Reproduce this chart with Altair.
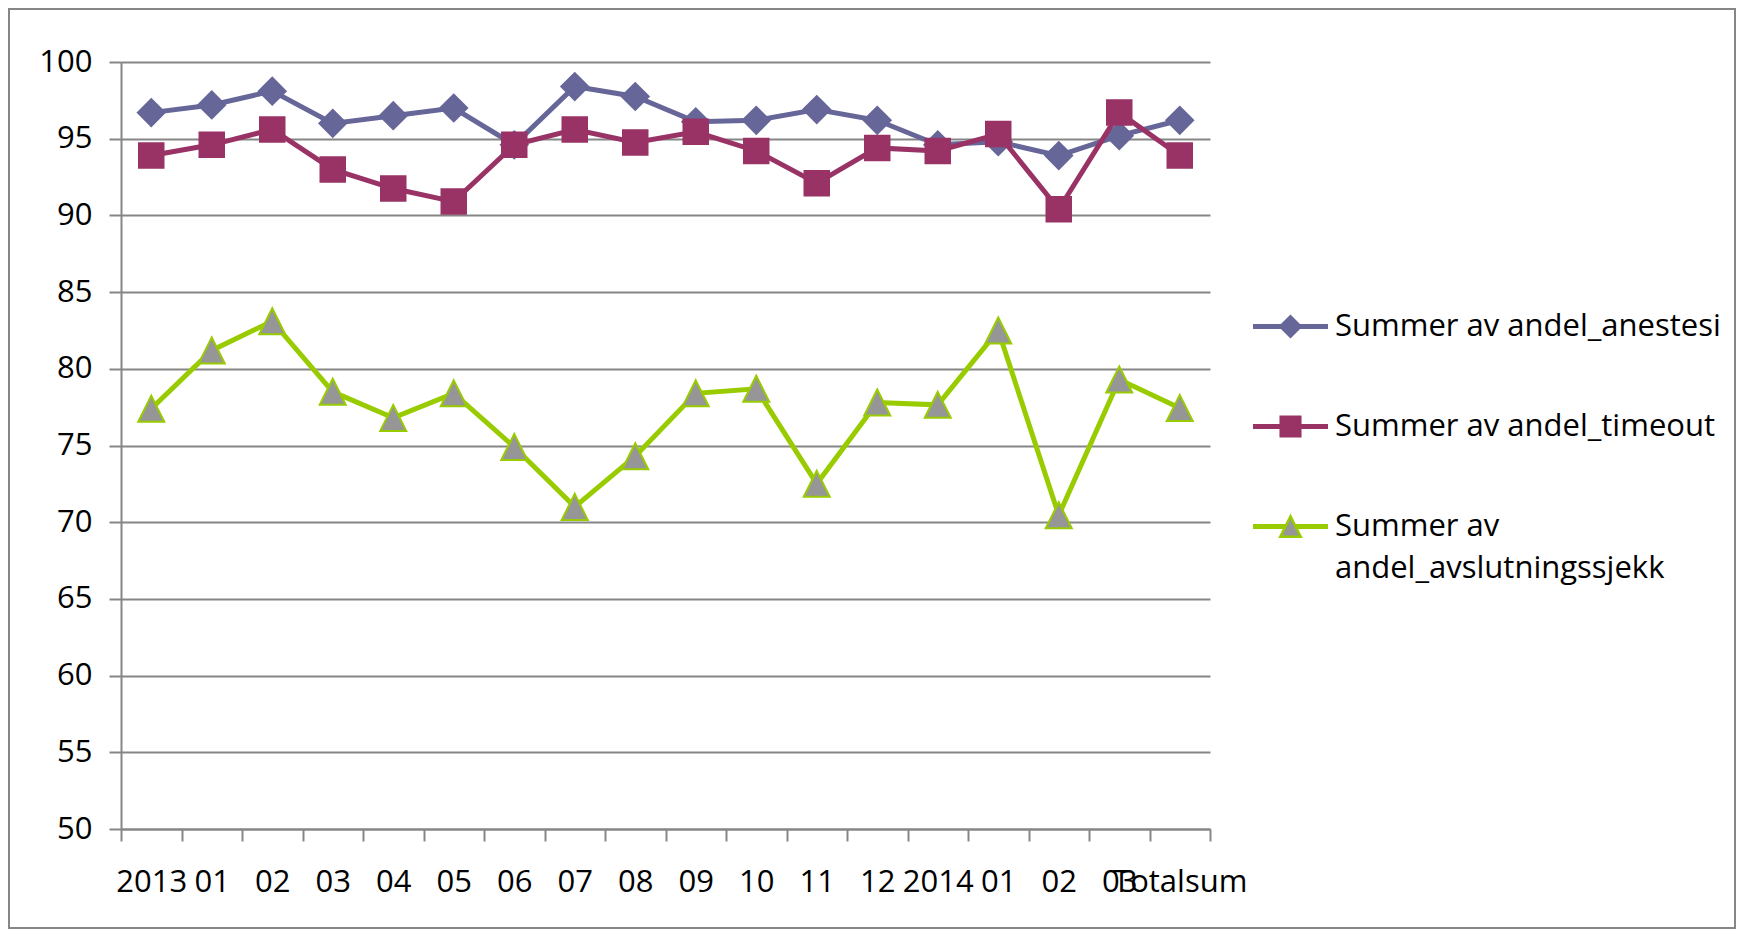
import altair as alt
import pandas as pd

# ---- data ----
labels = ["2013", "01", "02", "03", "04", "05", "06", "07", "08", "09", "10", "11", "12",
          "2014", "01", "02", "03", "Totalsum"]
series_names = ["Summer av andel_anestesi", "Summer av andel_timeout",
                "Summer av andel_avslutningssjekk"]
anestesi = [96.7, 97.2, 98.1, 96.0, 96.5, 97.0, 94.6, 98.4, 97.75, 96.1, 96.2, 96.9, 96.2,
            94.6, 94.8, 93.9, 95.2, 96.2]
timeout = [93.9, 94.6, 95.6, 93.0, 91.75, 90.9, 94.6, 95.6, 94.75, 95.45, 94.2, 92.1, 94.4,
           94.2, 95.3, 90.4, 96.7, 93.9]
avslutning = [77.4, 81.2, 83.1, 78.5, 76.8, 78.4, 74.9, 71.0, 74.3, 78.4, 78.7, 72.5, 77.8,
              77.65, 82.5, 70.45, 79.3, 77.45]
y_ticks = [50, 55, 60, 65, 70, 75, 80, 85, 90, 95, 100]

line_colors = ["#666699", "#993366", "#99CC00"]
fill_colors = ["#666699", "#993366", "#969696"]

keys = [f"{i:02d}|{lab}" for i, lab in enumerate(labels)]
rows = []
for name, vals in zip(series_names, [anestesi, timeout, avslutning]):
    for k, v in zip(keys, vals):
        rows.append({"cat": k, "series": name, "value": v})
df = pd.DataFrame(rows)

FONT = "Open Sans"
GRAY = "#868686"
FS = 31

# marker paths (unit box -1..1)
marker_paths = [
    "M-0.96,0L0,-0.96L0.96,0L0,0.96Z",
    "M-0.875,-0.875H0.875V0.875H-0.875Z",
    "M0,-0.93L0.93,0.93L-0.93,0.93Z",
]
# legend symbols: line through marker
ly = 0.109
legend_paths = [
    f"M-3.26,{-ly}H3.26M-3.26,{ly}H3.26M-0.89,0L0,-0.89L0.89,0L0,0.89Z",
    f"M-3.26,{-ly}H3.26M-3.26,{ly}H3.26M-0.85,-0.85H0.85V0.85H-0.85Z",
    f"M-3.26,{-ly}H-0.45M0.45,{-ly}H3.26M-3.26,{ly}H-0.45M0.45,{ly}H3.26M0,-0.89L0.89,0.89L-0.89,0.89Z",
]

x_enc = alt.X(
    "cat:N",
    sort=keys,
    scale=alt.Scale(type="band", domain=keys, paddingInner=0, paddingOuter=0),
    axis=alt.Axis(
        title=None,
        labelExpr="split(datum.label, '|')[1]",
        tickBand="extent",
        labelAngle=0,
        labelOverlap=False,
        labelPadding=26,
        tickSize=12,
        grid=False,
    ),
)
y_enc = alt.Y(
    "value:Q",
    scale=alt.Scale(domain=[50, 100], nice=False, zero=False),
    axis=alt.Axis(
        title=None,
        values=y_ticks,
        grid=True,
        tickSize=12,
        labelPadding=17,
    ),
)

base = alt.Chart(df)
layers = []
for i, name in enumerate(series_names):
    sub = base.transform_filter(alt.datum.series == name)
    layers.append(
        sub.mark_line(color=line_colors[i], strokeWidth=5).encode(x=x_enc, y=y_enc)
    )
    layers.append(
        sub.mark_point(
            shape=marker_paths[i], filled=True, fill=fill_colors[i], stroke=line_colors[i],
            strokeWidth=2, size=784, opacity=1,
        ).encode(x=x_enc, y=y_enc)
    )

legend_layer = base.transform_filter("false").mark_point(
    filled=True, opacity=1, strokeWidth=2.5
).encode(
    x=x_enc,
    y=y_enc,
    shape=alt.Shape(
        "series:N",
        scale=alt.Scale(domain=series_names, range=legend_paths),
        legend=alt.Legend(
            title=None,
            orient="none",
            legendX=1154,
            legendY=249,
            padding=0,
            symbolSize=529,
            symbolStrokeWidth=2.5,
            symbolOpacity=1,
            labelFont=FONT,
            labelFontSize=FS,
            labelColor="black",
            labelLimit=1000,
            labelOffset=29,
            rowPadding=68,
            labelExpr="datum.value == 'Summer av andel_avslutningssjekk' ? ['Summer av', 'andel_avslutningssjekk'] : datum.label",
        ),
    ),
    fill=alt.Fill("series:N", scale=alt.Scale(domain=series_names, range=fill_colors)),
    stroke=alt.Stroke("series:N", scale=alt.Scale(domain=series_names, range=line_colors)),
)
layers.append(legend_layer)

border = alt.Chart(alt.Data(values=[{"a": 1}])).mark_rect(
    fill="transparent", stroke=GRAY, strokeWidth=2
).encode(x=alt.value(-112), x2=alt.value(1614), y=alt.value(-53), y2=alt.value(866))

chart = alt.layer(border, *layers).properties(
    width=1089,
    height=767,
    autosize=alt.AutoSizeParams(type="none"),
    padding={"left": 113, "top": 54, "right": 526, "bottom": 100},
).configure(
    style={"guide-label": {"lineHeight": 42}}
).configure_view(stroke=None).configure_axis(
    domainColor=GRAY,
    domainWidth=2,
    tickColor=GRAY,
    tickWidth=2,
    gridColor=GRAY,
    gridWidth=2,
    labelFont=FONT,
    labelFontSize=FS,
    labelColor="black",
)

chart.save("out.html", embed_options={"renderer": "svg", "actions": False})
